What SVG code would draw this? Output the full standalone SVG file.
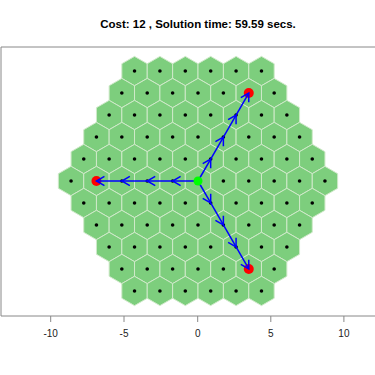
<svg xmlns="http://www.w3.org/2000/svg" xmlns:xlink="http://www.w3.org/1999/xlink" width="375" height="375" viewBox="0 0 375 375">
<style>
.hx{fill:#7dce7d;stroke:#cfe9c9;stroke-width:1}
.dot{fill:#000}
.arr{stroke:#0000ff;stroke-width:1.5;fill:none;marker-end:url(#ah)}
.ttl{font-family:"Liberation Sans",Arial,sans-serif;font-size:11.5px;font-weight:bold;fill:#000;text-anchor:middle}
.tk{font-family:"Liberation Sans",Arial,sans-serif;font-size:10px;fill:#222;text-anchor:middle}
</style>
<defs>
<g id="hex">
<polygon class="hx" points="0,-14.66 12.695,-7.33 12.695,7.33 0,14.66 -12.695,7.33 -12.695,-7.33"/>
<circle class="dot" r="1.8"/>
</g>
<marker id="ah" markerUnits="userSpaceOnUse" markerWidth="20" markerHeight="20" refX="0" refY="0" orient="auto" overflow="visible">
<path d="M-8,-4.6 L0,0 L-8,4.6" fill="none" stroke="#0000ff" stroke-width="1.5"/>
</marker>
</defs>
<rect width="375" height="375" fill="#fff"/>
<text class="ttl" x="198" y="28">Cost: 12 , Solution time: 59.59 secs.</text>
<g id="frame" fill="none" stroke="#888" stroke-width="1">
<path d="M376,47 H1 V316 H376"/>
<path d="M50.7,316 V322 M124,316 V322 M197.7,316 V322 M270.8,316 V322 M343.9,316 V322"/>
</g>
<g id="axis-labels">
<text class="tk" x="50.7" y="337">-10</text>
<text class="tk" x="124" y="337">-5</text>
<text class="tk" x="197.7" y="337">0</text>
<text class="tk" x="270.8" y="337">5</text>
<text class="tk" x="343.9" y="337">10</text>
</g>
<g id="grid">
<use id="h_m5_0" href="#hex" x="134.53" y="71.05"/><use id="h_m5_1" href="#hex" x="159.92" y="71.05"/><use id="h_m5_2" href="#hex" x="185.31" y="71.05"/><use id="h_m5_3" href="#hex" x="210.70" y="71.05"/><use id="h_m5_4" href="#hex" x="236.09" y="71.05"/><use id="h_m5_5" href="#hex" x="261.48" y="71.05"/>
<use id="h_m4_0" href="#hex" x="121.83" y="93.04"/><use id="h_m4_1" href="#hex" x="147.22" y="93.04"/><use id="h_m4_2" href="#hex" x="172.61" y="93.04"/><use id="h_m4_3" href="#hex" x="198" y="93.04"/><use id="h_m4_4" href="#hex" x="223.39" y="93.04"/><use id="h_m4_5" href="#hex" x="248.78" y="93.04"/><use id="h_m4_6" href="#hex" x="274.17" y="93.04"/>
<use id="h_m3_0" href="#hex" x="109.14" y="115.03"/><use id="h_m3_1" href="#hex" x="134.53" y="115.03"/><use id="h_m3_2" href="#hex" x="159.92" y="115.03"/><use id="h_m3_3" href="#hex" x="185.31" y="115.03"/><use id="h_m3_4" href="#hex" x="210.70" y="115.03"/><use id="h_m3_5" href="#hex" x="236.09" y="115.03"/><use id="h_m3_6" href="#hex" x="261.48" y="115.03"/><use id="h_m3_7" href="#hex" x="286.87" y="115.03"/>
<use id="h_m2_0" href="#hex" x="96.44" y="137.02"/><use id="h_m2_1" href="#hex" x="121.83" y="137.02"/><use id="h_m2_2" href="#hex" x="147.22" y="137.02"/><use id="h_m2_3" href="#hex" x="172.61" y="137.02"/><use id="h_m2_4" href="#hex" x="198" y="137.02"/><use id="h_m2_5" href="#hex" x="223.39" y="137.02"/><use id="h_m2_6" href="#hex" x="248.78" y="137.02"/><use id="h_m2_7" href="#hex" x="274.17" y="137.02"/><use id="h_m2_8" href="#hex" x="299.56" y="137.02"/>
<use id="h_m1_0" href="#hex" x="83.75" y="159.01"/><use id="h_m1_1" href="#hex" x="109.14" y="159.01"/><use id="h_m1_2" href="#hex" x="134.53" y="159.01"/><use id="h_m1_3" href="#hex" x="159.92" y="159.01"/><use id="h_m1_4" href="#hex" x="185.31" y="159.01"/><use id="h_m1_5" href="#hex" x="210.70" y="159.01"/><use id="h_m1_6" href="#hex" x="236.09" y="159.01"/><use id="h_m1_7" href="#hex" x="261.48" y="159.01"/><use id="h_m1_8" href="#hex" x="286.87" y="159.01"/><use id="h_m1_9" href="#hex" x="312.26" y="159.01"/>
<use id="h_0_0" href="#hex" x="71.05" y="181"/><use id="h_0_1" href="#hex" x="96.44" y="181"/><use id="h_0_2" href="#hex" x="121.83" y="181"/><use id="h_0_3" href="#hex" x="147.22" y="181"/><use id="h_0_4" href="#hex" x="172.61" y="181"/><use id="h_0_5" href="#hex" x="198" y="181"/><use id="h_0_6" href="#hex" x="223.39" y="181"/><use id="h_0_7" href="#hex" x="248.78" y="181"/><use id="h_0_8" href="#hex" x="274.17" y="181"/><use id="h_0_9" href="#hex" x="299.56" y="181"/><use id="h_0_10" href="#hex" x="324.95" y="181"/>
<use id="h_p1_0" href="#hex" x="83.75" y="202.99"/><use id="h_p1_1" href="#hex" x="109.14" y="202.99"/><use id="h_p1_2" href="#hex" x="134.53" y="202.99"/><use id="h_p1_3" href="#hex" x="159.92" y="202.99"/><use id="h_p1_4" href="#hex" x="185.31" y="202.99"/><use id="h_p1_5" href="#hex" x="210.70" y="202.99"/><use id="h_p1_6" href="#hex" x="236.09" y="202.99"/><use id="h_p1_7" href="#hex" x="261.48" y="202.99"/><use id="h_p1_8" href="#hex" x="286.87" y="202.99"/><use id="h_p1_9" href="#hex" x="312.26" y="202.99"/>
<use id="h_p2_0" href="#hex" x="96.44" y="224.98"/><use id="h_p2_1" href="#hex" x="121.83" y="224.98"/><use id="h_p2_2" href="#hex" x="147.22" y="224.98"/><use id="h_p2_3" href="#hex" x="172.61" y="224.98"/><use id="h_p2_4" href="#hex" x="198" y="224.98"/><use id="h_p2_5" href="#hex" x="223.39" y="224.98"/><use id="h_p2_6" href="#hex" x="248.78" y="224.98"/><use id="h_p2_7" href="#hex" x="274.17" y="224.98"/><use id="h_p2_8" href="#hex" x="299.56" y="224.98"/>
<use id="h_p3_0" href="#hex" x="109.14" y="246.97"/><use id="h_p3_1" href="#hex" x="134.53" y="246.97"/><use id="h_p3_2" href="#hex" x="159.92" y="246.97"/><use id="h_p3_3" href="#hex" x="185.31" y="246.97"/><use id="h_p3_4" href="#hex" x="210.70" y="246.97"/><use id="h_p3_5" href="#hex" x="236.09" y="246.97"/><use id="h_p3_6" href="#hex" x="261.48" y="246.97"/><use id="h_p3_7" href="#hex" x="286.87" y="246.97"/>
<use id="h_p4_0" href="#hex" x="121.83" y="268.96"/><use id="h_p4_1" href="#hex" x="147.22" y="268.96"/><use id="h_p4_2" href="#hex" x="172.61" y="268.96"/><use id="h_p4_3" href="#hex" x="198" y="268.96"/><use id="h_p4_4" href="#hex" x="223.39" y="268.96"/><use id="h_p4_5" href="#hex" x="248.78" y="268.96"/><use id="h_p4_6" href="#hex" x="274.17" y="268.96"/>
<use id="h_p5_0" href="#hex" x="134.53" y="290.95"/><use id="h_p5_1" href="#hex" x="159.92" y="290.95"/><use id="h_p5_2" href="#hex" x="185.31" y="290.95"/><use id="h_p5_3" href="#hex" x="210.70" y="290.95"/><use id="h_p5_4" href="#hex" x="236.09" y="290.95"/><use id="h_p5_5" href="#hex" x="261.48" y="290.95"/>
</g>
<g id="targets">
<circle id="target-left" cx="96.44" cy="181" r="5" fill="#ff0000"/>
<circle id="target-up" cx="248.78" cy="93.04" r="5" fill="#ff0000"/>
<circle id="target-down" cx="248.78" cy="268.96" r="5" fill="#ff0000"/>
</g>
<g id="connectors">
<line class="arr" x1="198" y1="181" x2="172.61" y2="181"/>
<line class="arr" x1="172.61" y1="181" x2="147.22" y2="181"/>
<line class="arr" x1="147.22" y1="181" x2="121.83" y2="181"/>
<line class="arr" x1="121.83" y1="181" x2="96.44" y2="181"/>
<line class="arr" x1="198" y1="181" x2="210.70" y2="159.01"/>
<line class="arr" x1="210.70" y1="159.01" x2="223.39" y2="137.02"/>
<line class="arr" x1="223.39" y1="137.02" x2="236.09" y2="115.03"/>
<line class="arr" x1="236.09" y1="115.03" x2="248.78" y2="93.04"/>
<line class="arr" x1="198" y1="181" x2="210.70" y2="202.99"/>
<line class="arr" x1="210.70" y1="202.99" x2="223.39" y2="224.98"/>
<line class="arr" x1="223.39" y1="224.98" x2="236.09" y2="246.97"/>
<line class="arr" x1="236.09" y1="246.97" x2="248.78" y2="268.96"/>
</g>
<g id="source-node">
<circle id="source" cx="198" cy="181" r="4.5" fill="#00ff00"/>
</g>
</svg>
